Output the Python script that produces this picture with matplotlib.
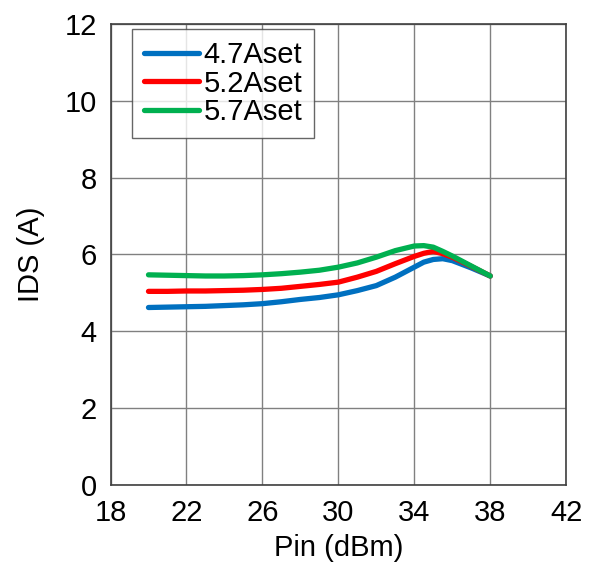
import matplotlib
matplotlib.use("Agg")
import matplotlib.pyplot as plt
import numpy as np

plt.rcParams['font.family'] = ['Liberation Sans', 'DejaVu Sans']

pin = [20, 21, 22, 23, 24, 25, 26, 27, 28, 29, 30, 31, 32, 33, 34, 34.5, 35, 35.5, 36, 37, 38]
ids_47 = [4.62, 4.63, 4.64, 4.65, 4.67, 4.69, 4.72, 4.77, 4.83, 4.88, 4.95, 5.06, 5.19, 5.41, 5.67, 5.80, 5.87, 5.89, 5.84, 5.65, 5.44]
ids_52 = [5.04, 5.04, 5.05, 5.05, 5.06, 5.07, 5.09, 5.12, 5.17, 5.22, 5.28, 5.41, 5.56, 5.76, 5.95, 6.03, 6.08, 6.02, 5.93, 5.69, 5.44]
ids_57 = [5.47, 5.46, 5.45, 5.44, 5.44, 5.45, 5.47, 5.50, 5.54, 5.59, 5.67, 5.78, 5.93, 6.10, 6.22, 6.23, 6.19, 6.08, 5.96, 5.70, 5.44]
series_labels = ['4.7Aset', '5.2Aset', '5.7Aset']
colors = ['#0070C0', '#FF0000', '#00B050']
xticks = [18, 22, 26, 30, 34, 38, 42]
yticks = [0, 2, 4, 6, 8, 10, 12]

fig = plt.figure(figsize=(5.91, 5.68), dpi=100)
ax = fig.add_axes([0.187, 0.146, 0.771, 0.812])

for ys, lab, c in zip([ids_47, ids_52, ids_57], series_labels, colors):
    ax.plot(pin, ys, color=c, lw=3.8, label=lab, solid_capstyle='round',
            solid_joinstyle='round')

ax.set_xlim(18, 42)
ax.set_ylim(0, 12)
ax.set_xticks(xticks)
ax.set_yticks(yticks)
ax.grid(True, color='#808080', lw=1.0)
ax.tick_params(labelsize=21, length=0, pad=10)
for s in ax.spines.values():
    s.set_color('#404040')
    s.set_linewidth(1.2)
ax.set_xlabel('Pin (dBm)', fontsize=21, labelpad=5)
ax.set_ylabel('IDS (A)', fontsize=21, labelpad=14)

leg = ax.legend(loc='upper left', bbox_to_anchor=(0.048, 0.988), fontsize=21,
                frameon=True, fancybox=False, edgecolor='#404040',
                handlelength=1.9, handletextpad=0.15, labelspacing=0.02,
                borderpad=0.4, borderaxespad=0)
leg.get_frame().set_linewidth(1.0)

fig.savefig('out.png', dpi=100)
